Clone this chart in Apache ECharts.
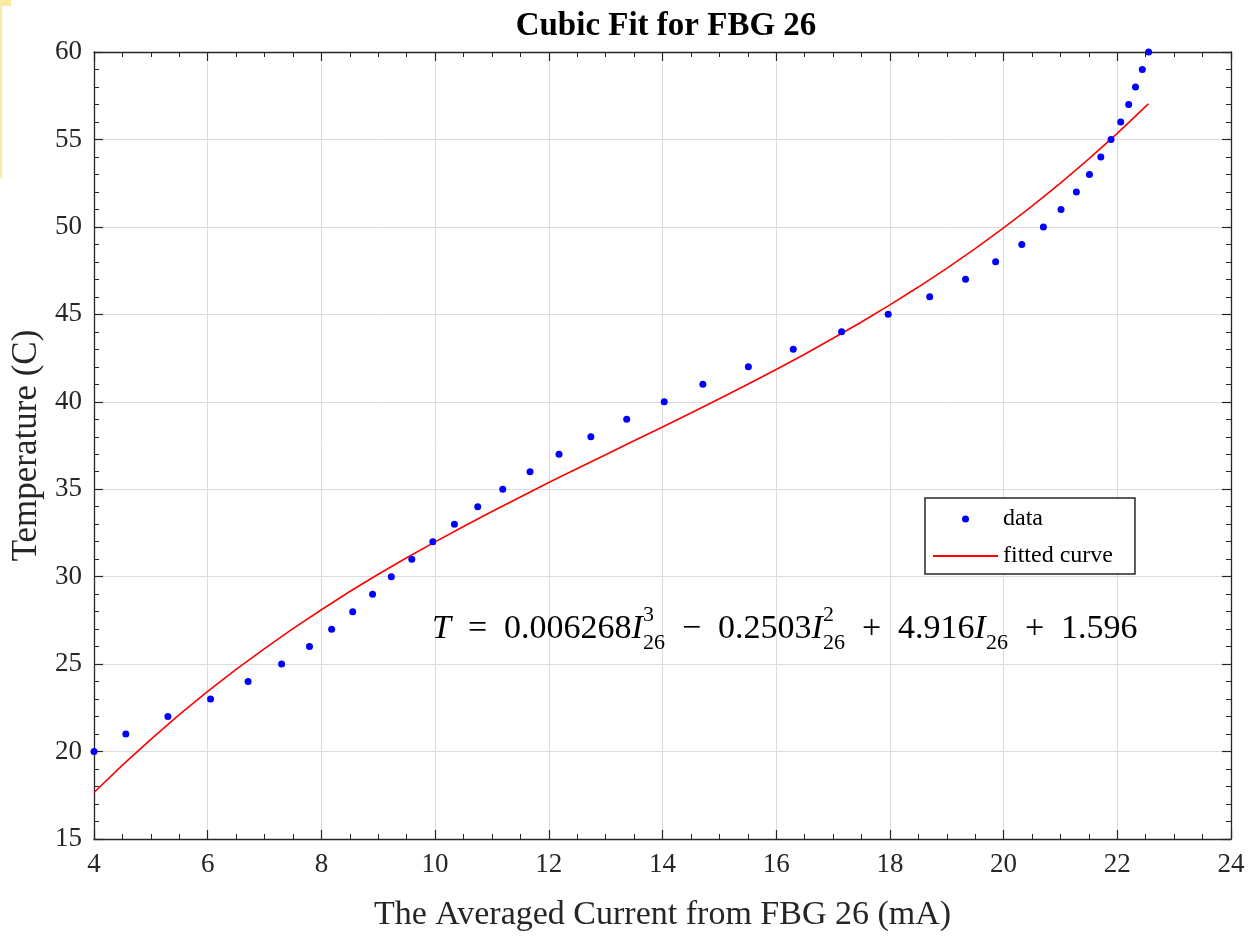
<!DOCTYPE html>
<html>
<head>
<meta charset="utf-8">
<script src="https://cdn.jsdelivr.net/npm/echarts@6/dist/echarts.min.js"></script>
<style>
html,body{margin:0;padding:0;background:#fff;}
#chart{width:1249px;height:937px;}
</style>
</head>
<body>
<div id="chart"></div>
<script>
// Measured data: averaged current (mA) vs temperature (C)
const temperatures = [20,21,22,23,24,25,26,27,28,29,30,31,32,33,34,35,36,37,38,39,40,41,42,43,44,45,46,47,48,49,50,51,52,53,54,55,56,57,58,59,60];
const currents = [4.00,4.56,5.30,6.05,6.71,7.30,7.79,8.18,8.55,8.90,9.23,9.59,9.96,10.34,10.75,11.19,11.67,12.18,12.74,13.37,14.03,14.71,15.51,16.30,17.15,17.97,18.70,19.33,19.86,20.32,20.70,21.01,21.28,21.51,21.71,21.89,22.06,22.20,22.32,22.44,22.55];
// Fitted curve
const fitCurrents = [4,4.5,5,5.5,6,6.5,7,7.5,8,8.5,9,9.5,10,10.5,11,11.5,12,12.5,13,13.5,14,14.5,15,15.5,16,16.5,17,17.5,18,18.5,19,19.5,20,20.5,21,21.5,22,22.5,22.55];
const fitTemps = [17.66,19.22,20.70,22.11,23.44,24.70,25.89,27.03,28.11,29.15,30.14,31.08,31.99,32.87,33.73,34.56,35.38,36.18,36.97,37.77,38.56,39.36,40.17,41.00,41.85,42.72,43.63,44.56,45.54,46.56,47.63,48.76,49.94,51.19,52.50,53.89,55.35,56.89,57.04];

const titleText = 'Cubic Fit for FBG 26';
const xName = 'The Averaged Current from FBG 26 (mA)';
const yName = 'Temperature (C)';
const seriesNames = ['data', 'fitted curve'];

const FONT = "'Liberation Serif','Times New Roman',serif";
const AX = '#262626';

const chart = echarts.init(document.getElementById('chart'), null, {renderer:'canvas'});

function boxAxis(pos, min, max, interval, split){
  return {
    type:'value', position:pos, min:min, max:max, interval:interval,
    axisLine:{show:true, onZero:false, lineStyle:{color:AX, width:1.3}},
    axisTick:{show:true, inside:true, length:9, lineStyle:{color:AX, width:1.2}},
    minorTick:{show:true, splitNumber:split, length:5, lineStyle:{color:AX, width:1}},
    axisLabel:{show:false},
    splitLine:{show:false}
  };
}

const option = {
  backgroundColor:'#fff',
  animation:false,
  title:{
    text:titleText, left:661, top:5, textAlign:'center',
    textStyle:{fontFamily:FONT, fontWeight:'bold', fontSize:33, color:'#000'}
  },
  grid:{left:94, right:18, top:52, bottom:96, containLabel:false},
  legend:{
    data:[
      {name:seriesNames[0], icon:'circle'},
      {name:seriesNames[1], icon:'path://M0,0H100V3H0Z'}
    ],
    orient:'vertical', left:925, top:498,
    backgroundColor:'#fff', borderColor:AX, borderWidth:1.5,
    padding:[9,22,6,8], itemWidth:65, itemHeight:7, itemGap:13,
    textStyle:{fontFamily:FONT, fontSize:24, color:'#000'}
  },
  xAxis:[
    {
      type:'value', position:'bottom', min:4, max:24, interval:2,
      name:xName, nameLocation:'middle', nameGap:59,
      nameTextStyle:{fontFamily:FONT, fontSize:34, color:AX},
      axisLine:{show:true, onZero:false, lineStyle:{color:AX, width:1.3}},
      axisTick:{show:true, inside:true, length:9, lineStyle:{color:AX, width:1.2}},
      minorTick:{show:true, splitNumber:4, length:5, lineStyle:{color:AX, width:1}},
      axisLabel:{fontFamily:FONT, fontSize:27, color:AX, margin:12},
      splitLine:{show:true, lineStyle:{color:'#dcdcdc', width:1}}
    },
    boxAxis('top', 4, 24, 2, 4)
  ],
  yAxis:[
    {
      type:'value', position:'left', min:15, max:60, interval:5,
      name:yName, nameLocation:'middle', nameGap:48,
      nameTextStyle:{fontFamily:FONT, fontSize:35, color:AX},
      axisLine:{show:true, onZero:false, lineStyle:{color:AX, width:1.3}},
      axisTick:{show:true, inside:true, length:9, lineStyle:{color:AX, width:1.2}},
      minorTick:{show:true, splitNumber:5, length:5, lineStyle:{color:AX, width:1}},
      axisLabel:{fontFamily:FONT, fontSize:27, color:AX, margin:12},
      splitLine:{show:true, lineStyle:{color:'#dcdcdc', width:1}}
    },
    boxAxis('right', 15, 60, 5, 5)
  ],
  series:[
    {
      name:seriesNames[0], type:'scatter', xAxisIndex:0, yAxisIndex:0,
      symbol:'circle', symbolSize:7, itemStyle:{color:'#0000ff', opacity:1},
      data:currents.map((c,i)=>[c, temperatures[i]]), z:3
    },
    {
      name:seriesNames[1], type:'line', xAxisIndex:0, yAxisIndex:0,
      symbol:'none', showSymbol:false, smooth:false,
      lineStyle:{color:'#ff0000', width:1.6}, itemStyle:{color:'#ff0000'},
      data:fitCurrents.map((c,i)=>[c, fitTemps[i]]), z:2
    }
  ],
  graphic:[
    {type:'rect', left:0, top:0, shape:{width:11, height:6}, style:{fill:'#fce9a4'}, silent:true},
    {type:'rect', left:0, top:0, shape:{width:2, height:178}, style:{fill:'#fce9a4'}, silent:true},
    {
      type:'text', left:432, top:604, z:10,
      style:{
        text:'{i|T}  =  0.006268{i|I}{sp|3}{sb|26}  \u2212  0.2503{i|I}{sp|2}{sb|26}  +  4.916{i|I}{sb|26}  +  1.596',
        font:"34px 'Liberation Serif', serif", fill:'#000',
        lineHeight:50, verticalAlign:'top',
        rich:{
          i:{fontFamily:FONT, fontStyle:'italic', fontSize:34, lineHeight:50},
          sp:{fontFamily:FONT, fontSize:22, lineHeight:27, verticalAlign:'top', width:0},
          sb:{fontFamily:FONT, fontSize:22, lineHeight:27, verticalAlign:'bottom'}
        }
      }
    }
  ]
};
chart.setOption(option);
</script>
</body>
</html>
